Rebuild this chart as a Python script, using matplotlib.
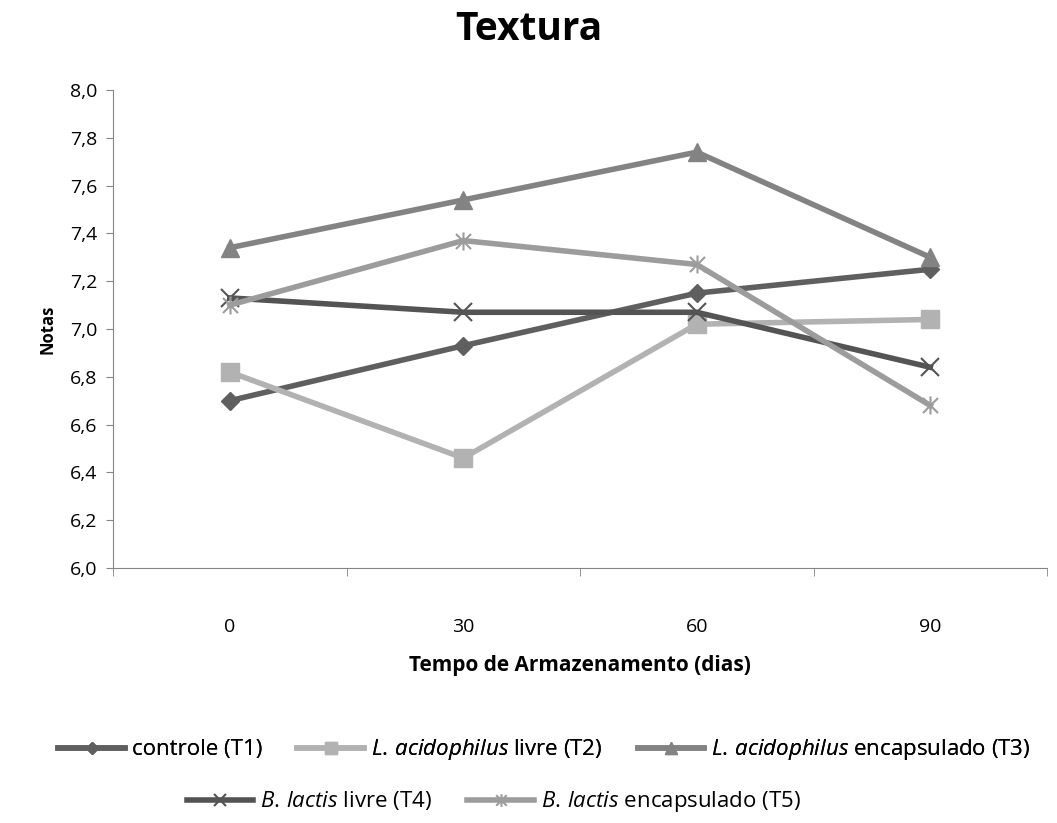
import matplotlib
matplotlib.use("Agg")
import matplotlib.pyplot as plt
from matplotlib.path import Path
from matplotlib.ticker import FuncFormatter, FixedLocator

plt.rcParams['font.family'] = ['Open Sans', 'DejaVu Sans']
plt.rcParams['mathtext.fontset'] = 'custom'
plt.rcParams['mathtext.it'] = 'Open Sans:italic'
plt.rcParams['mathtext.rm'] = 'Open Sans'

dias = ["0", "30", "60", "90"]
t1_controle = [6.70, 6.93, 7.15, 7.25]
t2_la_livre = [6.82, 6.46, 7.02, 7.04]
t3_la_encaps = [7.34, 7.54, 7.74, 7.30]
t4_bl_livre = [7.13, 7.07, 7.07, 6.84]
t5_bl_encaps = [7.10, 7.37, 7.27, 6.68]

# asterisk made of an X plus a vertical stroke
star = Path([(-1, -1), (1, 1), (-1, 1), (1, -1), (0, -1.2), (0, 1.2)],
            [Path.MOVETO, Path.LINETO, Path.MOVETO, Path.LINETO, Path.MOVETO, Path.LINETO])

fig = plt.figure(figsize=(10.57, 8.23), dpi=100)
ax = fig.add_axes([113/1057, 1 - 568/823, (1047-113)/1057, (568-90)/823])

x = list(range(len(dias)))
series = [
    (t1_controle, "#5f5f5f", "D", 9, "controle (T1)"),
    (t2_la_livre, "#b2b2b2", "s", 13, r"$\mathit{L.\,acidophilus}$ livre (T2)"),
    (t3_la_encaps, "#838383", "^", 13, r"$\mathit{L.\,acidophilus}$ encapsulado (T3)"),
    (t4_bl_livre, "#545454", "x", 13, r"$\mathit{B.\,lactis}$ livre (T4)"),
    (t5_bl_encaps, "#9c9c9c", star, 13, r"$\mathit{B.\,lactis}$ encapsulado (T5)"),
]
lines = []
for vals, col, mk, ms, lab in series:
    thin = mk == "x" or isinstance(mk, Path)
    ln, = ax.plot(x, vals, color=col, lw=4, marker=mk, markersize=ms,
                  markeredgecolor=col, markerfacecolor=col, mew=1.5 if thin else 1,
                  label=lab, solid_joinstyle='round')
    lines.append(ln)

ax.set_xlim(-0.5, 3.5)
ax.set_ylim(6.0, 8.0)
ax.set_xticks(x)
ax.set_xticklabels(dias)
ax.xaxis.set_minor_locator(FixedLocator([-0.5, 0.5, 1.5, 2.5, 3.5]))
ax.tick_params(axis='x', which='major', length=0, pad=36, labelsize=14)
ax.tick_params(axis='x', which='minor', length=6, color='#868686')
ax.set_yticks([6.0 + 0.2 * i for i in range(11)])
ax.yaxis.set_major_formatter(FuncFormatter(lambda v, p: f"{v:.1f}".replace('.', ',')))
ax.tick_params(axis='y', length=5, color='#868686', labelsize=14, pad=6)
for s in ('top', 'right'):
    ax.spines[s].set_visible(False)
for s in ('left', 'bottom'):
    ax.spines[s].set_color('#868686')

ax.set_ylabel("Notas", fontsize=12, fontweight='bold', labelpad=10)
ax.set_xlabel("Tempo de Armazenamento (dias)", fontsize=15, fontweight='bold', labelpad=14)
fig.text(0.5, 1 - 30/823, "Textura", ha='center', va='center', fontsize=28, fontweight='bold')

leg_kw = dict(frameon=False, fontsize=16, handlelength=3.0, columnspacing=1.6,
              handletextpad=0.3, markerscale=0.7)
leg1 = fig.legend(handles=lines[:3], loc='center', bbox_to_anchor=(0.515, 1 - 750/823),
                  ncol=3, **leg_kw)
fig.add_artist(leg1)
fig.legend(handles=lines[3:], loc='center', bbox_to_anchor=(0.467, 1 - 802/823),
           ncol=2, **leg_kw)

fig.savefig("out.png", dpi=100)
